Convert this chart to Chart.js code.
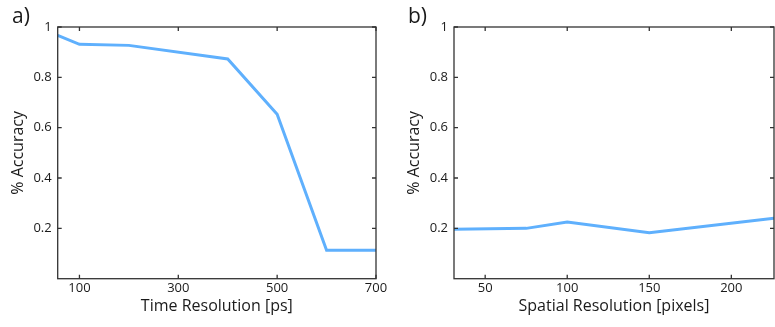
<!DOCTYPE html>
<html>
<head>
<meta charset="utf-8">
<script src="https://cdn.jsdelivr.net/npm/chart.js@4.4.1/dist/chart.umd.min.js"></script>
<style>
  html, body { margin: 0; padding: 0; background: #fff; }
  #wrap { position: relative; width: 775px; height: 327px; overflow: hidden; }
  .panel { position: absolute; top: 0; }
</style>
</head>
<body>
<div id="wrap">
  <div class="panel" style="left:0;width:395px;height:327px"><canvas id="chartA" width="395" height="327"></canvas></div>
  <div class="panel" style="left:395px;width:380px;height:327px"><canvas id="chartB" width="380" height="327"></canvas></div>
</div>
<script>
// panel a) : accuracy vs time resolution
const timeRes = [56, 100, 200, 400, 500, 600, 700];
const timeAcc = [0.967, 0.931, 0.927, 0.873, 0.653, 0.113, 0.113];
const timeTicks = [100, 300, 500, 700];

// panel b) : accuracy vs spatial resolution
const spatialRes = [31, 75, 100, 150, 226];
const spatialAcc = [0.196, 0.200, 0.225, 0.183, 0.240];
const spatialTicks = [50, 100, 150, 200];

const accTicks = [0.2, 0.4, 0.6, 0.8, 1];

const LINE_COLOR = '#5fb0fd';
const TEXT_COLOR = '#1a1a1a';
const FONT = '"Open Sans", "DejaVu Sans", sans-serif';

// box around the plot + inward ticks on all four sides + panel letter
const framePlugin = {
  id: 'frame',
  afterDatasetsDraw(chart, args, opts) {
    const { ctx, chartArea: a, scales: { x, y } } = chart;
    const tl = 4;
    ctx.save();
    ctx.strokeStyle = '#333';
    ctx.lineWidth = 1.3;
    ctx.strokeRect(a.left, a.top, a.right - a.left, a.bottom - a.top);
    ctx.beginPath();
    x.ticks.forEach(t => {
      const px = x.getPixelForValue(t.value);
      ctx.moveTo(px, a.bottom); ctx.lineTo(px, a.bottom - tl);
      ctx.moveTo(px, a.top); ctx.lineTo(px, a.top + tl);
    });
    y.ticks.forEach(t => {
      const py = y.getPixelForValue(t.value);
      ctx.moveTo(a.left, py); ctx.lineTo(a.left + tl, py);
      ctx.moveTo(a.right, py); ctx.lineTo(a.right - tl, py);
    });
    ctx.stroke();
    ctx.fillStyle = TEXT_COLOR;
    ctx.font = '21px ' + FONT;
    ctx.textBaseline = 'alphabetic';
    ctx.fillText(opts.label, opts.lx, 22.5);
    ctx.restore();
  }
};

function makeChart(id, xs, ys, xTicks, xMin, xMax, xTitle, yWidth, yTitlePad, padRight, letter, letterX) {
  const ctx = document.getElementById(id).getContext('2d');
  return new Chart(ctx, {
    type: 'line',
    data: {
      datasets: [{
        data: xs.map((v, i) => ({ x: v, y: ys[i] })),
        borderColor: LINE_COLOR,
        borderWidth: 3,
        pointRadius: 0,
        tension: 0,
        fill: false
      }]
    },
    options: {
      responsive: false,
      animation: false,
      layout: { padding: { left: 0, top: 27, right: padRight, bottom: 0 } },
      plugins: {
        legend: { display: false },
        tooltip: { enabled: false },
        frame: { label: letter, lx: letterX }
      },
      scales: {
        x: {
          type: 'linear',
          min: xMin,
          max: xMax,
          afterBuildTicks: s => { s.ticks = xTicks.map(v => ({ value: v })); },
          afterFit: s => { s.height = 48.3; },
          grid: { display: false, drawTicks: false },
          border: { display: false },
          ticks: {
            padding: 2,
            maxRotation: 0,
            color: TEXT_COLOR,
            font: { family: FONT, size: 13 },
            callback: v => String(v)
          },
          title: {
            display: true,
            text: xTitle,
            color: TEXT_COLOR,
            font: { family: FONT, size: 16 },
            padding: { top: 0, bottom: 11.4 }
          }
        },
        y: {
          type: 'linear',
          min: 0,
          max: 1,
          afterBuildTicks: s => { s.ticks = accTicks.map(v => ({ value: v })); },
          afterFit: s => { s.width = yWidth; },
          grid: { display: false, drawTicks: false },
          border: { display: false },
          ticks: {
            padding: 6,
            color: TEXT_COLOR,
            font: { family: FONT, size: 13 },
            callback: v => String(v)
          },
          title: {
            display: true,
            text: '% Accuracy',
            color: TEXT_COLOR,
            font: { family: FONT, size: 16 },
            padding: { top: yTitlePad, bottom: 0 }
          }
        }
      }
    },
    plugins: [framePlugin]
  });
}

makeChart('chartA', timeRes, timeAcc, timeTicks, 56, 700, 'Time Resolution [ps]', 57.7, 8.4, 19, 'a)', 12);
makeChart('chartB', spatialRes, spatialAcc, spatialTicks, 31, 226, 'Spatial Resolution [pixels]', 59, 9.4, 1, 'b)', 13);
</script>
</body>
</html>
